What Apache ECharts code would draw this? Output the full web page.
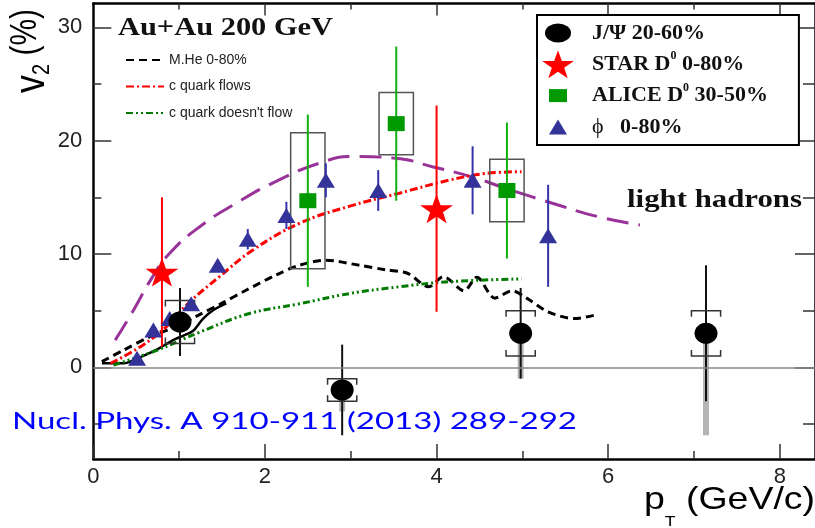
<!DOCTYPE html>
<html><head><meta charset="utf-8">
<script src="https://cdn.jsdelivr.net/npm/echarts@6/dist/echarts.min.js"></script>
<style>html,body{margin:0;padding:0;background:#fff}#c{width:815px;height:528px}</style>
</head><body><div id="c"></div>
<script>
// ---------------- data ----------------
const xTickLabels = [0, 2, 4, 6, 8];
const xMinorTicks = [1, 3, 5, 7];
const xTopMajor = [2, 4, 6, 8];
const yTickLabels = [0, 10, 20, 30];
const yMinorTicks = [-5, 5, 15, 25];

// J/psi 20-60%
const jpsiX = [1.01, 2.90, 4.98, 7.14];
const jpsiV2 = [4.0, -2.0, 3.0, 3.0];
const jpsiStat = [3.0, 4.0, 4.0, 6.0];
const jpsiSys = [1.9, 1.0, 2.0, 2.0];
const jpsiNonflowLow = [4.0, -3.9, -1.0, -6.0];

// STAR D0 0-80%
const starX = [0.80, 4.00];
const starV2 = [8.4, 14.0];
const starErr = [6.6, 9.1];

// ALICE D0 30-50%
const aliceX = [2.50, 3.53, 4.82];
const aliceV2 = [14.7, 21.5, 15.6];
const aliceStat = [7.6, 6.8, 6.0];
const aliceSys = [6.0, 2.75, 2.75];

// phi 0-80%
const phiX = [0.51, 0.70, 0.89, 1.14, 1.45, 1.80, 2.25, 2.71, 3.32, 4.42, 5.30];
const phiV2 = [0.8, 3.3, 4.3, 5.6, 9.0, 11.3, 13.4, 16.5, 15.6, 16.5, 11.6];
const phiErr = [0.3, 0.4, 0.5, 0.5, 0.5, 0.9, 1.2, 1.5, 1.8, 3.0, 4.5];

// light hadrons curve
const lightX = [0.255, 0.47, 0.68, 0.89, 1.24, 1.67, 2.13, 2.63, 3.02, 3.52, 3.95, 4.41, 4.80, 5.34, 5.88, 6.37];
const lightY = [2.4, 5.06, 7.85, 10.06, 12.4, 14.5, 16.4, 18.0, 18.6, 18.45, 17.7, 16.8, 15.8, 14.5, 13.3, 12.56];

// c quark flows
const cFlowX = [0.20, 0.545, 0.855, 1.085, 1.47, 1.86, 2.40, 2.98, 3.56, 4.14, 4.57, 4.99];
const cFlowY = [0.35, 1.8, 3.6, 5.5, 8.0, 10.35, 12.7, 14.2, 15.35, 16.5, 17.1, 17.26];

// c quark doesn't flow
const cNoFlowX = [0.235, 0.74, 1.24, 1.82, 2.40, 2.98, 3.56, 4.14, 4.99];
const cNoFlowY = [0.2, 1.5, 3.1, 4.75, 5.6, 6.5, 7.1, 7.55, 7.8];

// M.He 0-80% (dashed)
const mheX = [0.10, 0.35, 0.66, 0.97, 1.20, 1.51, 1.78, 2.13, 2.40, 2.71, 3.10, 3.41, 3.66, 3.91, 4.08, 4.32, 4.47, 4.68, 4.88, 5.05, 5.30, 5.61, 5.84];
const mheY = [0.5, 1.5, 2.7, 3.6, 4.5, 5.7, 6.8, 8.15, 9.0, 9.45, 9.0, 8.6, 8.3, 7.1, 8.0, 6.75, 7.95, 6.1, 6.75, 6.1, 4.9, 4.3, 4.6];

// M.He low-pT (solid)
const mheSolidX = [0.10, 0.35, 0.55, 0.75, 0.93, 1.05, 1.16, 1.28, 1.40, 1.55];
const mheSolidY = [0.35, 0.35, 0.9, 1.6, 2.4, 2.8, 3.2, 4.3, 5.06, 5.65];

// ---------------- helpers ----------------
const zip = (xs, ys) => xs.map((x, i) => [x, ys[i]]);
const mctx = document.createElement('canvas').getContext('2d');
function tw(font, s) { mctx.font = font; return mctx.measureText(s).width; }

const X_MIN = 0, X_MAX = 8.41, Y_MIN = -8.1, Y_MAX = 32.1;
const GRID = { left: 93.3, right: -2, top: 3.5, bottom: 68.9 };

const STAR_PTS = [[50,0],[61.8,35.1],[98.1,35.1],[68.8,56.7],[79.4,91],[50,70],[20.6,91],[31.2,56.7],[1.9,35.1],[38.2,35.1]];
const STAR_SYMBOL = 'path://M' + STAR_PTS.map(p => p[0] + ',' + p[1]).join('L') + 'Z';
const STAR_ICON = 'path://M0 0M34 28M' + STAR_PTS.map(p => (0.5 + p[0] * 0.33).toFixed(2) + ',' + (p[1] * 28 / 91).toFixed(2)).join('L') + 'Z';
const CIRCLE_ICON = 'path://M0 0M34 28M4 14a13 9.5 0 1 0 26 0a13 9.5 0 1 0 -26 0Z';
const SQUARE_ICON = 'path://M0 0M34 28M8 7.5h18v13h-18Z';
const TRI_ICON = 'path://M0 0M34 28M17 6.5L26 21.5L8 21.5Z';

function xAx(gridIndex, position, tickVals, tickLen, showLine, labelVals) {
  return {
    type: 'value', gridIndex, position, min: X_MIN, max: X_MAX,
    axisLine: { show: showLine, onZero: false, lineStyle: { color: '#000', width: 2.5 } },
    axisTick: { show: true, inside: true, length: tickLen, customValues: tickVals, lineStyle: { color: '#333', width: 1.5 } },
    axisLabel: labelVals ? { show: true, customValues: labelVals, margin: 7, fontSize: 22, color: '#222', fontFamily: 'Liberation Sans' } : { show: false },
    splitLine: { show: false }
  };
}
function yAx(gridIndex, position, tickVals, tickLen, showLine, labelVals) {
  return {
    type: 'value', gridIndex, position, min: Y_MIN, max: Y_MAX,
    axisLine: { show: showLine, onZero: false, lineStyle: { color: '#000', width: 2.5 } },
    axisTick: { show: true, inside: true, length: tickLen, customValues: tickVals, lineStyle: { color: '#333', width: 1.5 } },
    axisLabel: labelVals ? { show: true, customValues: labelVals, margin: 11, fontSize: 22, color: '#222', fontFamily: 'Liberation Sans' } : { show: false },
    splitLine: { show: false }
  };
}

function vline(x, y1, y2, color, w) {
  return { type: 'line', shape: { x1: x, y1: y1, x2: x, y2: y2 }, style: { stroke: color, lineWidth: w } };
}

function renderSimpleErr(color) {
  return function (params, api) {
    const x = api.value(0), y = api.value(1), e = api.value(2);
    const a = api.coord([x, y + e]), b = api.coord([x, y - e]);
    return vline(a[0], a[1], b[1], color, 2);
  };
}

function renderAlice(params, api) {
  const x = api.value(0), y = api.value(1), st = api.value(2), sy = api.value(3);
  const tl = api.coord([x - 0.2, y + sy]), br = api.coord([x + 0.2, y - sy]);
  const a = api.coord([x, y + st]), b = api.coord([x, y - st]);
  return { type: 'group', children: [
    { type: 'rect', shape: { x: tl[0], y: tl[1], width: br[0] - tl[0], height: br[1] - tl[1] }, style: { fill: 'none', stroke: '#555', lineWidth: 1.5 } },
    vline(a[0], a[1], b[1], '#10b010', 2)
  ] };
}

function renderJpsi(params, api) {
  const x = api.value(0), y = api.value(1), st = api.value(2), sy = api.value(3), low = api.value(4);
  const c = api.coord([x, y]);
  const a = api.coord([x, y + st]), b = api.coord([x, y - st]);
  const sT = api.coord([x, y + sy])[1], sB = api.coord([x, y - sy])[1];
  const hw = api.size([0.17, 0])[0];
  const g = api.coord([x, low]);
  const hook = 6;
  const ch = [];
  if (g[1] - c[1] > 1) ch.push({ type: 'rect', shape: { x: c[0] - 3, y: c[1], width: 6, height: g[1] - c[1] }, style: { fill: '#b5b5b5' } });
  ch.push(vline(c[0], a[1], b[1], '#111', 2));
  ch.push({ type: 'polyline', shape: { points: [[c[0] - hw, sT + hook], [c[0] - hw, sT], [c[0] + hw, sT], [c[0] + hw, sT + hook]] }, style: { stroke: '#333', lineWidth: 1.5, fill: null } });
  ch.push({ type: 'polyline', shape: { points: [[c[0] - hw, sB - hook], [c[0] - hw, sB], [c[0] + hw, sB], [c[0] + hw, sB - hook]] }, style: { stroke: '#333', lineWidth: 1.5, fill: null } });
  return { type: 'group', children: ch };
}

// ---------------- text scaling ----------------
const TITLE_FONT = 'bold 25px "Liberation Serif"';
const sxTitle = 215 / tw(TITLE_FONT, 'Au+Au 200 GeV');
const sxLight = 175 / tw(TITLE_FONT, 'light hadrons');
const CITE = 'Nucl. Phys. A 910-911 (2013) 289-292';
const CITE_FONT = '24px Lato';
const sxCite = 565 / tw(CITE_FONT, CITE);
const sxXName = 171 / (tw('32px "Liberation Sans"', 'p') + tw('15px "Liberation Sans"', 'T') + tw('32px "Liberation Sans"', ' (GeV/c)'));

const legendRich = {
  sp: { width: 12 },
  t: { fontFamily: 'Liberation Serif', fontWeight: 'bold', fontSize: 22, lineHeight: 30, color: '#111' },
  sup: { fontFamily: 'Liberation Serif', fontWeight: 'bold', fontSize: 12, lineHeight: 12, verticalAlign: 'top', padding: [1, 0, 0, 0], color: '#111' },
  phi: { fontFamily: 'Liberation Serif', fontWeight: 'normal', fontSize: 22, lineHeight: 30, color: '#111' }
};
const legendFmt = {
  'J/Ψ 20-60%': '{sp|}{t|J/Ψ 20-60%}',
  'STAR D0 0-80%': '{sp|}{t|STAR D}{sup|0}{t| 0-80%}',
  'ALICE D0 30-50%': '{sp|}{t|ALICE D}{sup|0}{t| 30-50%}',
  'ϕ 0-80%': '{sp|}{phi|ϕ}{t|   0-80%}'
};

const option = {
  backgroundColor: '#fff',
  animation: false,
  grid: [Object.assign({}, GRID), Object.assign({}, GRID)],
  xAxis: [
    xAx(0, 'bottom', xTickLabels, 15, true, xTickLabels),
    xAx(0, 'top', xTopMajor, 12, true, null),
    xAx(1, 'bottom', xMinorTicks, 8, false, null),
    xAx(1, 'top', xMinorTicks, 6, false, null)
  ],
  yAxis: [
    yAx(0, 'left', yTickLabels, 18, true, yTickLabels),
    yAx(0, 'right', yTickLabels, 20, true, null),
    yAx(1, 'left', yMinorTicks, 8, false, null),
    yAx(1, 'right', yMinorTicks, 12, false, null)
  ],
  legend: [
    {
      data: ['M.He 0-80%', 'c quark flows', "c quark doesn't flow"],
      orient: 'vertical', left: 120, top: 48, padding: 5,
      itemWidth: 38, itemHeight: 14, itemGap: 12.5, selectedMode: false,
      itemStyle: { color: 'rgba(0,0,0,0)', borderWidth: 0 },
      textStyle: { fontFamily: 'Liberation Sans', fontSize: 14, color: '#222' }
    },
    {
      data: [
        { name: 'J/Ψ 20-60%', icon: CIRCLE_ICON },
        { name: 'STAR D0 0-80%', icon: STAR_ICON },
        { name: 'ALICE D0 30-50%', icon: SQUARE_ICON },
        { name: 'ϕ 0-80%', icon: TRI_ICON }
      ],
      orient: 'vertical', left: 537, top: 15, padding: [3, 31, 3, 4],
      itemWidth: 34, itemHeight: 28, itemGap: 1.3, selectedMode: false,
      borderColor: '#000', borderWidth: 2, backgroundColor: '#fff',
      itemStyle: { opacity: 1 },
      formatter: name => legendFmt[name] || name,
      textStyle: { fontFamily: 'Liberation Serif', fontWeight: 'bold', fontSize: 22, lineHeight: 30, color: '#111', rich: legendRich }
    }
  ],
  graphic: [
    { type: 'text', x: 118, y: 29, scaleX: sxTitle, z: 10,
      style: { text: 'Au+Au 200 GeV', font: TITLE_FONT, fill: '#111', align: 'left', verticalAlign: 'middle' } },
    { type: 'text', x: 627, y: 200.5, scaleX: sxLight, z: 10,
      style: { text: 'light hadrons', font: TITLE_FONT, fill: '#111', align: 'left', verticalAlign: 'middle' } },
    { type: 'text', x: 12, y: 421.5, scaleX: sxCite, z: 10,
      style: { text: CITE, font: CITE_FONT, fill: '#0000ff', align: 'left', verticalAlign: 'middle' } },
    { type: 'text', x: 644, y: 484, scaleX: sxXName, z: 10,
      style: { text: '{a|p}{b|T}{a| (GeV/c)}', align: 'left', verticalAlign: 'top',
        rich: {
          a: { fontFamily: 'Liberation Sans', fontSize: 32, lineHeight: 34, verticalAlign: 'top', color: '#222' },
          b: { fontFamily: 'Liberation Sans', fontSize: 15, lineHeight: 15, verticalAlign: 'top', padding: [30.5, 0, 0, 0], color: '#222' }
        } } },
    { type: 'text', x: 7.6, y: 93, rotation: Math.PI / 2, scaleY: 1.2, z: 10,
      style: { text: '{v|v}{s|2}{n| (%)}', align: 'left', verticalAlign: 'top',
        rich: {
          v: { fontFamily: 'Liberation Sans', fontSize: 36, lineHeight: 36, verticalAlign: 'top', padding: [2, 0, 0, 0], color: '#222' },
          s: { fontFamily: 'Liberation Sans', fontSize: 20, lineHeight: 20, verticalAlign: 'top', padding: [19.2, 0, 0, 0], color: '#222' },
          n: { fontFamily: 'Liberation Sans', fontSize: 30, lineHeight: 30, verticalAlign: 'top', padding: [0.6, 0, 0, 0], color: '#222' }
        } } }
  ],
  series: [
    { type: 'line', name: 'light hadrons', data: zip(lightX, lightY), smooth: 0.5, symbol: 'none', z: 2,
      lineStyle: { color: '#993399', width: 3, type: [22, 10] } },
    { type: 'line', name: 'M.He 0-80%', data: zip(mheX, mheY), smooth: 0.3, symbol: 'none', z: 2,
      itemStyle: { color: '#000' }, lineStyle: { color: '#000', width: 3, type: [8, 5] } },
    { type: 'line', name: 'M.He low pT', data: zip(mheSolidX, mheSolidY), smooth: 0.3, symbol: 'none', z: 2,
      lineStyle: { color: '#000', width: 2.5, type: 'solid' },
      markLine: { silent: true, symbol: ['none', 'none'], label: { show: false },
        lineStyle: { color: '#888', width: 1.5, type: 'solid' }, data: [{ yAxis: 0 }] } },
    { type: 'line', name: 'c quark flows', data: zip(cFlowX, cFlowY), smooth: 0.4, symbol: 'none', z: 2,
      itemStyle: { color: '#ff0000' }, lineStyle: { color: '#ff0000', width: 3, type: [8, 3, 2, 3] } },
    { type: 'line', name: "c quark doesn't flow", data: zip(cNoFlowX, cNoFlowY), smooth: 0.4, symbol: 'none', z: 2,
      itemStyle: { color: '#007a00' }, lineStyle: { color: '#007a00', width: 3, type: [7, 3, 2, 3, 2, 3] } },
    { type: 'custom', name: 'ALICE errors', renderItem: renderAlice, z: 3,
      data: aliceX.map((x, i) => [x, aliceV2[i], aliceStat[i], aliceSys[i]]) },
    { type: 'custom', name: 'STAR errors', renderItem: renderSimpleErr('#ff0000'), z: 3,
      data: starX.map((x, i) => [x, starV2[i], starErr[i]]) },
    { type: 'custom', name: 'phi errors', renderItem: renderSimpleErr('#3333aa'), z: 3,
      data: phiX.map((x, i) => [x, phiV2[i], phiErr[i]]) },
    { type: 'custom', name: 'J/psi errors', renderItem: renderJpsi, z: 3,
      data: jpsiX.map((x, i) => [x, jpsiV2[i], jpsiStat[i], jpsiSys[i], jpsiNonflowLow[i]]) },
    { type: 'scatter', name: 'ϕ 0-80%', data: zip(phiX, phiV2), symbol: 'triangle', symbolSize: [18, 15], z: 4,
      itemStyle: { color: '#333399', opacity: 1 } },
    { type: 'scatter', name: 'ALICE D0 30-50%', data: zip(aliceX, aliceV2), symbol: 'rect', symbolSize: [17, 15], z: 4,
      itemStyle: { color: '#009900', opacity: 1 } },
    { type: 'scatter', name: 'STAR D0 0-80%', data: zip(starX, starV2), symbol: STAR_SYMBOL, symbolSize: [33, 29], z: 4,
      itemStyle: { color: '#ff0000', opacity: 1 } },
    { type: 'scatter', name: 'J/Ψ 20-60%', data: zip(jpsiX, jpsiV2), symbol: 'circle', symbolSize: [23, 21], z: 4,
      itemStyle: { color: '#000', opacity: 1 } }
  ]
};

const chart = echarts.init(document.getElementById('c'), null, { renderer: 'canvas', width: 815, height: 528 });
chart.setOption(option);
</script>
</body></html>
